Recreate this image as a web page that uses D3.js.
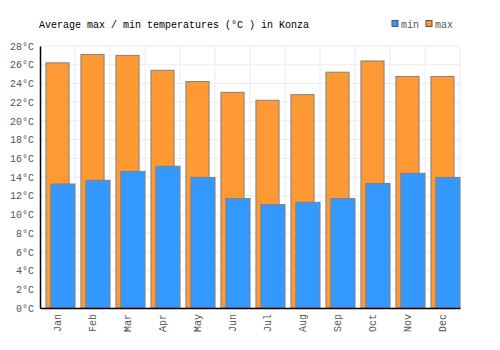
<!DOCTYPE html>
<html lang="en">
<head>
<meta charset="utf-8">
<style>
  body { margin: 0; background: #fff; }
  text { font-family: "Liberation Mono", monospace; }
</style>
</head>
<body>
<script src="https://cdn.jsdelivr.net/npm/d3@7"></script>
<div id="chart"></div>
<script>

var months = ["Jan","Feb","Mar","Apr","May","Jun","Jul","Aug","Sep","Oct","Nov","Dec"];
var maxTemp = [26.2, 27.1, 27.0, 25.4, 24.2, 23.05, 22.2, 22.8, 25.2, 26.4, 24.75, 24.75];
var minTemp = [13.25, 13.65, 14.6, 15.15, 13.95, 11.7, 11.05, 11.3, 11.7, 13.3, 14.4, 13.95];
var yTicks = [0,2,4,6,8,10,12,14,16,18,20,22,24,26,28];

var margin = {top: 46, right: 40, bottom: 42, left: 40},
    width = 500 - margin.left - margin.right,
    height = 350 - margin.top - margin.bottom;

var svg = d3.select("#chart").append("svg")
    .attr("width", 500)
    .attr("height", 350);

var g = svg.append("g")
    .attr("transform", `translate(${margin.left},${margin.top})`);

var x = d3.scaleBand().domain(months).range([0, width]);
var y = d3.scaleLinear().domain([0, 28]).range([height, 0]);
var bw = x.bandwidth();

// grid
g.selectAll(".hgrid")
  .data(yTicks)
  .enter().append("line")
  .attr("x1", 0).attr("x2", width)
  .attr("y1", d => y(d)).attr("y2", d => y(d))
  .attr("stroke", "#ececec");

g.selectAll(".vgrid")
  .data(months)
  .enter().append("line")
  .attr("x1", d => x(d) + bw).attr("x2", d => x(d) + bw)
  .attr("y1", 0).attr("y2", height)
  .attr("stroke", "#ececec");

// max bars (behind)
g.selectAll(".maxbar")
  .data(maxTemp)
  .enter().append("rect")
  .attr("x", (d, i) => x(months[i]) + bw * 0.17)
  .attr("y", d => y(d))
  .attr("width", bw * 0.66)
  .attr("height", d => height - y(d))
  .attr("fill", "#ff9933")
  .attr("stroke", "#808080")
  .attr("stroke-width", 1);

// min bars (front)
g.selectAll(".minbar")
  .data(minTemp)
  .enter().append("rect")
  .attr("x", (d, i) => x(months[i]) + bw * 0.31)
  .attr("y", d => y(d))
  .attr("width", bw * 0.69)
  .attr("height", d => height - y(d))
  .attr("fill", "#3399ff")
  .attr("stroke", "#808080")
  .attr("stroke-width", 1);

// axes
var yAxis = g.append("g")
  .call(d3.axisLeft(y).tickValues(yTicks).tickSize(0).tickPadding(6).tickFormat(d => d + "°C"));
yAxis.select(".domain").attr("stroke", "#000").attr("stroke-width", 1.5);
yAxis.selectAll("text").attr("fill", "#555").style("font-size", "10px")
  .style("font-family", "'Liberation Mono', monospace");

var xAxis = g.append("g")
  .attr("transform", `translate(0,${height})`)
  .call(d3.axisBottom(x).tickSize(0).tickPadding(8));
xAxis.select(".domain").attr("stroke", "#000").attr("stroke-width", 1.5);
xAxis.selectAll("text")
  .attr("fill", "#555")
  .style("font-size", "10px")
  .style("font-family", "'Liberation Mono', monospace")
  .attr("transform", "rotate(-90)")
  .attr("text-anchor", "end")
  .attr("dy", "0.32em")
  .attr("x", -6)
  .attr("y", 0);

// title
svg.append("text")
  .attr("x", 39)
  .attr("y", 28)
  .attr("font-size", "10px")
  .attr("fill", "#000")
  .text("Average max / min temperatures (°C ) in Konza");

// legend
var legend = [{name: "min", color: "#3399ff", x: 392}, {name: "max", color: "#ff9933", x: 426}];
var lg = svg.selectAll(".legend").data(legend).enter().append("g");
lg.append("rect")
  .attr("x", d => d.x).attr("y", 20.5)
  .attr("width", 6).attr("height", 6)
  .attr("fill", d => d.color)
  .attr("stroke", "#555").attr("stroke-width", 1);
lg.append("text")
  .attr("x", d => d.x + 9).attr("y", 28)
  .attr("font-size", "10px")
  .attr("fill", "#555")
  .text(d => d.name);

</script>
</body>
</html>
